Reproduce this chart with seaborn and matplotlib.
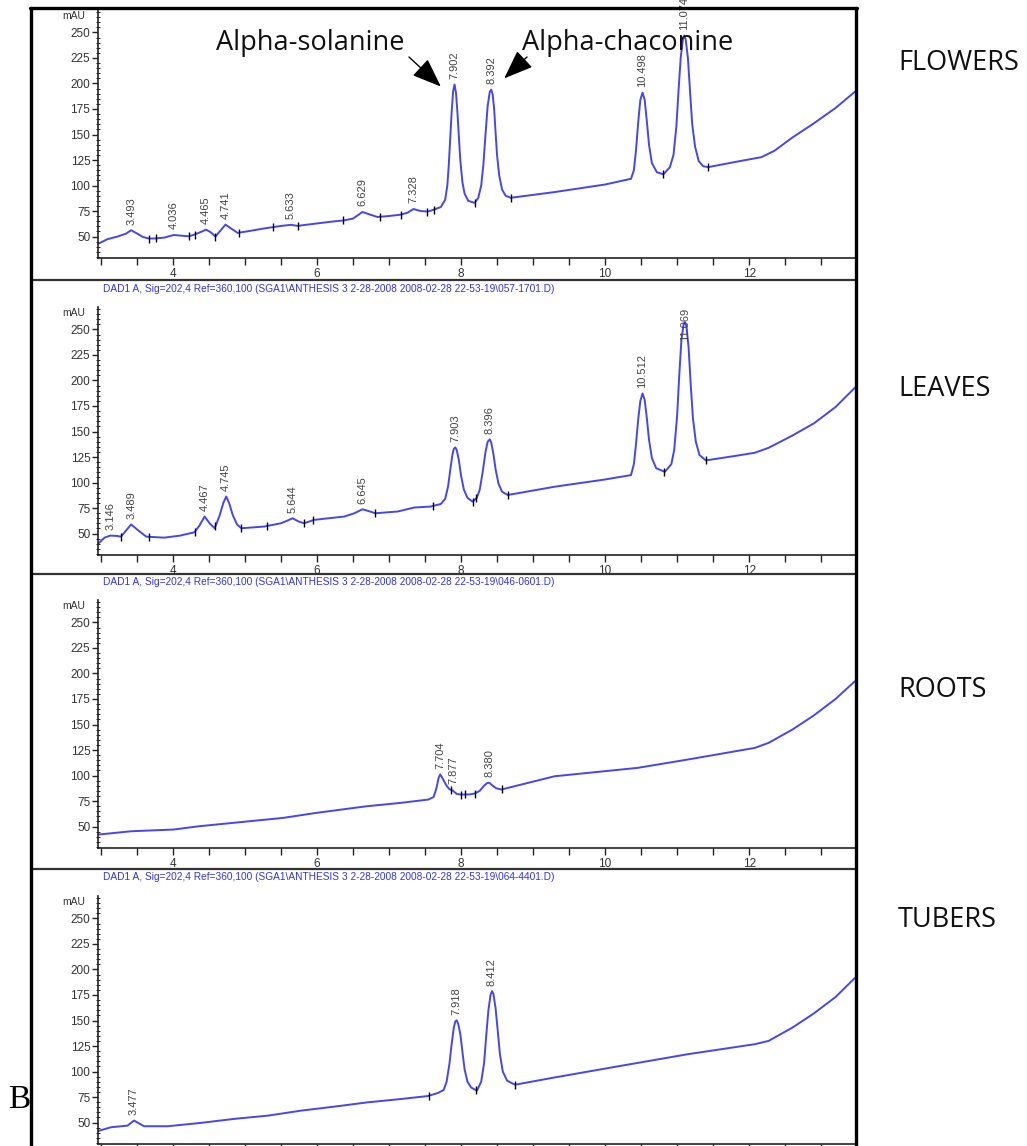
import numpy as np
import pandas as pd
import matplotlib
matplotlib.use("Agg")
import matplotlib.pyplot as plt
from matplotlib.ticker import MultipleLocator
from matplotlib.lines import Line2D
import seaborn as sns

# ---------------- data ----------------
flowers_x = [2.97, 3.09, 3.23, 3.35, 3.42, 3.49, 3.58, 3.67, 3.76, 3.88, 4.01, 4.10, 4.22, 4.30, 4.39,
             4.46, 4.53, 4.59, 4.65, 4.73, 4.81, 4.90, 5.04, 5.27, 5.50, 5.64, 5.73, 5.96, 6.19, 6.38,
             6.50, 6.57, 6.63, 6.70, 6.84, 6.98, 7.17, 7.26, 7.34, 7.44, 7.54, 7.63,
             7.72, 7.78, 7.81, 7.83, 7.85, 7.87, 7.89, 7.91, 7.93, 7.95, 7.97, 7.99, 8.02, 8.05, 8.10, 8.19,
             8.24, 8.28, 8.31, 8.34, 8.37, 8.40, 8.42, 8.44, 8.46, 8.48, 8.50, 8.53, 8.57, 8.62, 8.69,
             9.30, 10.00, 10.36, 10.40, 10.43, 10.46, 10.49, 10.52, 10.55, 10.58, 10.61, 10.65, 10.72, 10.81,
             10.90, 10.95, 10.99, 11.02, 11.05, 11.08, 11.10, 11.12, 11.15, 11.18, 11.21, 11.25, 11.30, 11.36,
             11.43, 11.80, 12.17, 12.35, 12.60, 12.90, 13.20, 13.47]
flowers_y = [43.2, 47.4, 50.0, 52.9, 56.2, 53.5, 49.7, 48.0, 48.2, 49.0, 51.5, 51.0, 50.2, 52.0, 54.6,
             56.8, 54.0, 50.0, 55.0, 61.7, 57.8, 53.6, 55.2, 58.0, 60.4, 61.5, 60.5, 62.5, 64.5, 65.9,
             67.6, 71.0, 74.1, 72.4, 69.2, 70.0, 71.5, 73.5, 77.0, 75.0, 74.5, 76.5,
             79.0, 86.0, 100.0, 120.0, 146.0, 172.0, 192.0, 199.0, 191.0, 172.0, 148.0, 125.0, 103.0, 92.0, 85.0, 83.0,
             88.0, 100.0, 120.0, 150.0, 178.0, 192.0, 194.0, 189.0, 175.0, 152.0, 130.0, 110.0, 96.0, 90.0, 88.0,
             93.6, 101.0, 106.6, 115.0, 135.0, 162.0, 184.0, 191.0, 184.0, 163.0, 140.0, 122.0, 113.0, 111.0,
             118.0, 130.0, 158.0, 193.0, 225.0, 243.0, 247.0, 243.0, 225.0, 192.0, 160.0, 138.0, 124.0, 119.0,
             118.0, 123.0, 127.8, 134.0, 147.0, 161.0, 176.0, 192.0]

leaves_x = [2.97, 3.05, 3.13, 3.22, 3.28, 3.35, 3.42, 3.51, 3.63, 3.88, 4.10, 4.30, 4.37, 4.44, 4.51,
            4.58, 4.65, 4.70, 4.74, 4.78, 4.83, 4.89, 4.95, 5.27, 5.50, 5.60, 5.66, 5.74, 5.82, 5.96,
            6.38, 6.52, 6.63, 6.72, 6.81, 7.12, 7.35, 7.58,
            7.72, 7.78, 7.82, 7.85, 7.88, 7.90, 7.92, 7.94, 7.97, 8.00, 8.04, 8.09, 8.16,
            8.22, 8.26, 8.30, 8.34, 8.37, 8.40, 8.42, 8.45, 8.48, 8.52, 8.57, 8.65, 9.30, 10.00,
            10.36, 10.40, 10.43, 10.46, 10.49, 10.52, 10.55, 10.58, 10.61, 10.65, 10.71, 10.83,
            10.92, 10.96, 11.00, 11.03, 11.06, 11.09, 11.11, 11.13, 11.16, 11.19, 11.22, 11.26, 11.31, 11.40,
            11.80, 12.08, 12.27, 12.60, 12.90, 13.20, 13.47]
leaves_y = [40.5, 46.0, 48.0, 47.7, 47.0, 53.0, 59.0, 53.6, 47.0, 46.0, 48.0, 51.3, 58.0, 66.7, 60.0,
            55.2, 68.0, 80.0, 86.3, 80.0, 68.3, 59.0, 55.2, 56.9, 60.1, 63.0, 65.0, 62.0, 60.1, 63.4,
            66.7, 69.9, 73.8, 72.0, 69.9, 71.6, 75.5, 76.5,
            79.0, 84.0, 96.0, 112.0, 127.0, 133.0, 134.4, 132.0, 122.0, 107.0, 93.0, 85.0, 81.3,
            85.0, 93.0, 110.0, 130.0, 140.0, 142.3, 139.0, 128.0, 113.0, 99.0, 91.0, 87.8, 95.9, 103.0,
            107.3, 118.0, 138.0, 162.0, 180.0, 187.3, 181.0, 163.0, 142.0, 124.0, 114.0, 110.5,
            118.0, 132.0, 165.0, 205.0, 240.0, 255.0, 257.0, 253.0, 232.0, 195.0, 163.0, 140.0, 127.0, 121.7,
            126.0, 129.2, 134.0, 146.0, 158.0, 174.0, 193.0]

roots_x = [2.97, 3.42, 4.01, 4.36, 5.06, 5.53, 5.99, 6.69, 7.16, 7.55, 7.62, 7.66, 7.69, 7.71, 7.73,
           7.76, 7.80, 7.84, 7.88, 7.94, 8.00, 8.12, 8.19, 8.26, 8.32, 8.36, 8.38, 8.40, 8.44, 8.49,
           8.56, 9.30, 10.45, 11.15, 12.08, 12.27, 12.60, 12.90, 13.20, 13.47]
roots_y = [42.2, 45.4, 47.1, 50.3, 55.2, 58.5, 63.4, 69.9, 73.2, 76.5, 79.0, 88.0, 98.0, 101.0, 99.0,
           95.0, 90.0, 86.5, 85.5, 82.0, 81.4, 81.5, 82.4, 85.0, 90.0, 92.5, 93.0, 92.5, 90.0, 87.5,
           86.3, 99.3, 107.5, 115.7, 127.1, 132.0, 145.0, 159.0, 175.0, 192.5]

tubers_x = [2.95, 3.14, 3.37, 3.46, 3.60, 3.93, 4.39, 4.85, 5.32, 5.78, 6.24, 6.70, 7.17, 7.54, 7.68,
            7.76, 7.80, 7.84, 7.87, 7.90, 7.92, 7.94, 7.96, 7.99, 8.02, 8.05, 8.09, 8.14, 8.22,
            8.28, 8.32, 8.35, 8.38, 8.41, 8.43, 8.45, 8.48, 8.51, 8.54, 8.58, 8.64, 8.75,
            9.30, 10.22, 11.15, 12.08, 12.27, 12.60, 12.90, 13.20, 13.47]
tubers_y = [41.5, 45.4, 47.0, 52.0, 46.4, 46.4, 49.7, 53.6, 56.8, 61.7, 65.6, 69.8, 73.1, 76.0, 79.0,
            82.0, 90.0, 108.0, 127.0, 143.0, 149.0, 150.2, 147.0, 137.0, 119.0, 102.0, 90.0, 84.4, 81.2,
            90.0, 108.0, 135.0, 160.0, 175.0, 178.8, 176.0, 162.0, 140.0, 117.0, 100.0, 91.0, 87.1,
            94.2, 105.6, 117.0, 126.8, 130.0, 143.0, 157.0, 173.0, 191.8]

# peak labels: retention time text, x position, label anchor height
flowers_rt = ["3.493", "4.036", "4.465", "4.741", "5.633", "6.629", "7.328", "7.902", "8.392", "10.498", "11.074"]
flowers_rt_x = [3.42, 4.01, 4.46, 4.73, 5.64, 6.63, 7.34, 7.91, 8.42, 10.52, 11.10]
flowers_rt_y = [56.2, 51.5, 56.8, 61.7, 61.5, 74.1, 77.0, 199.0, 194.0, 191.0, 247.0]

leaves_rt = ["3.146", "3.489", "4.467", "4.745", "5.644", "6.645", "7.903", "8.396", "10.512", "11.069"]
leaves_rt_x = [3.13, 3.42, 4.44, 4.74, 5.66, 6.63, 7.92, 8.40, 10.52, 11.11]
leaves_rt_y = [48.0, 59.0, 66.7, 86.3, 65.0, 73.8, 134.4, 142.3, 187.3, 233.0]

roots_rt = ["7.704", "7.877", "8.380"]
roots_rt_x = [7.72, 7.90, 8.39]
roots_rt_y = [101.0, 86.0, 93.0]

tubers_rt = ["3.477", "7.918", "8.412"]
tubers_rt_x = [3.46, 7.94, 8.43]
tubers_rt_y = [52.0, 150.2, 178.8]

# integration boundary marks (retention times)
flowers_marks = [3.67, 3.76, 4.22, 4.30, 4.59, 4.92, 5.39, 5.73, 6.36, 6.87, 7.16, 7.53, 7.63, 8.19, 8.69, 10.81, 11.43]
leaves_marks = [3.28, 3.67, 4.30, 4.59, 4.95, 5.30, 5.82, 5.95, 6.81, 7.61, 8.16, 8.21, 8.65, 10.82, 11.40]
roots_marks = [7.86, 8.00, 8.05, 8.19, 8.57]
tubers_marks = [7.55, 8.21, 8.75]

panel_names = ["FLOWERS", "LEAVES", "ROOTS", "TUBERS"]
header = "DAD1 A, Sig=202,4 Ref=360,100 (SGA1\\ANTHESIS 3 2-28-2008 2008-02-28 22-53-19\\{}.D)"
header_files = ["057-1701", "046-0601", "064-4401"]
y_ticks = [50, 75, 100, 125, 150, 175, 200, 225, 250]
x_ticks = [4, 6, 8, 10, 12]

# ---------------- figure ----------------
sns.set_theme(style="white")
plt.rcParams["font.family"] = ["Liberation Sans", "DejaVu Sans"]

W, H = 1027, 1146
fig = plt.figure(figsize=(W / 100, H / 100), dpi=100)

def fx(px):
    return px / W

def fy(py):
    return 1 - py / H

LINE = "#4646f0"
AX_L, AX_R = 98, 855
AX_H = 248
bottoms = [258, 555, 848, 1144]
label_y = [63, 389, 690, 920]
header_y = [None, 289, 582, 877]

panels = [
    (flowers_x, flowers_y, flowers_rt, flowers_rt_x, flowers_rt_y, flowers_marks),
    (leaves_x, leaves_y, leaves_rt, leaves_rt_x, leaves_rt_y, leaves_marks),
    (roots_x, roots_y, roots_rt, roots_rt_x, roots_rt_y, roots_marks),
    (tubers_x, tubers_y, tubers_rt, tubers_rt_x, tubers_rt_y, tubers_marks),
]

axes = []
for i, (xs, ys, rts, rtx, rty, marks) in enumerate(panels):
    assert len(xs) == len(ys), (i, len(xs), len(ys))
    b = bottoms[i]
    ax = fig.add_axes([fx(AX_L), fy(b), fx(AX_R - AX_L), AX_H / H])
    df = pd.DataFrame({"t": xs, "mAU": ys})
    sns.lineplot(data=df, x="t", y="mAU", ax=ax, color=LINE, lw=1.4, sort=False, estimator=None)
    mk = pd.DataFrame({"t": marks, "mAU": np.interp(marks, xs, ys)})
    ax.plot(mk["t"], mk["mAU"], ls="none", marker="|", ms=6, mew=1.0, color="black")
    for txt, px_, py_ in zip(rts, rtx, rty):
        ax.annotate(txt, xy=(px_, py_), xytext=(0, 4), textcoords="offset points",
                    rotation=90, ha="center", va="bottom", fontsize=8, color="#444444",
                    annotation_clip=False)
    ax.set_xlim(2.96, 13.47)
    ax.set_ylim(29, 272)
    ax.set_xlabel("")
    ax.set_ylabel("")
    for s in ["top", "right"]:
        ax.spines[s].set_visible(False)
    for s in ["left", "bottom"]:
        ax.spines[s].set_color("#222222")
        ax.spines[s].set_linewidth(1.2)
    ax.set_yticks(y_ticks)
    ax.set_yticklabels([str(v) for v in y_ticks])
    ax.yaxis.set_minor_locator(MultipleLocator(5))
    ax.set_xticks(x_ticks)
    ax.set_xticklabels([str(v) for v in x_ticks])
    ax.xaxis.set_minor_locator(MultipleLocator(0.5))
    ax.tick_params(axis="y", which="major", direction="out", length=4, width=1, color="#222222",
                   labelsize=8.5, labelcolor="#333333", pad=1.5, left=True)
    ax.tick_params(axis="y", which="minor", direction="inout", length=3, width=0.7, color="#222222", left=True)
    ax.tick_params(axis="x", which="both", direction="out", length=5, width=1, color="#222222",
                   labelsize=8.5, labelcolor="#333333", pad=2.5, bottom=True)
    if i == 3:
        # the last panel's time labels fall below the picture's lower edge
        ax.tick_params(axis="x", which="both", labelbottom=False)
    ax.annotate("mAU", xy=(0, 1), xycoords="axes fraction", xytext=(-9, -4), textcoords="offset points",
                ha="right", va="center", fontsize=7.5, color="#333333")
    ax.patch.set_alpha(0)
    axes.append(ax)
    fig.text(fx(898), fy(label_y[i]), panel_names[i], fontsize=19.5, family=["Open Sans", "DejaVu Sans"],
             color="#111111", va="center", ha="left")
    if header_y[i] is not None:
        fig.text(fx(103), fy(header_y[i]), header.format(header_files[i - 1]), fontsize=7.3,
                 color="#3333ee", va="center", ha="left")

# panel separators and outer box
for yy in [280, 574, 869]:
    fig.add_artist(Line2D([fx(32), fx(856)], [fy(yy), fy(yy)], color="#333333", lw=1.6))
fig.add_artist(Line2D([fx(31), fx(31)], [fy(8), 0], color="black", lw=2.4))
fig.add_artist(Line2D([fx(856), fx(856)], [fy(8), 0], color="black", lw=2.4))
fig.add_artist(Line2D([fx(30), fx(857)], [fy(8), fy(8)], color="black", lw=2.4))

# compound annotations
ax1 = axes[0]
fig.text(fx(216), fy(50), "Alpha-solanine", fontsize=19.5, family=["Open Sans", "DejaVu Sans"],
         color="#111111", va="baseline", ha="left")
fig.text(fx(522), fy(50), "Alpha-chaconine", fontsize=19.5, family=["Open Sans", "DejaVu Sans"],
         color="#111111", va="baseline", ha="left")
arrow = dict(arrowstyle="-|>,head_length=1.3,head_width=0.5", color="black", lw=1.0,
             mutation_scale=14, shrinkA=0, shrinkB=0)
ax1.annotate("", xy=(7.72, 197), xycoords="data", xytext=(fx(409), fy(57)),
             textcoords="figure fraction", arrowprops=arrow, annotation_clip=False)
ax1.annotate("", xy=(8.60, 205), xycoords="data", xytext=(fx(527), fy(57)),
             textcoords="figure fraction", arrowprops=arrow, annotation_clip=False)

fig.text(fx(8), fy(1108), "B", fontsize=24, family=["Liberation Serif", "DejaVu Serif"],
         color="black", va="baseline", ha="left")

fig.savefig("out.png", dpi=100, facecolor="white")
